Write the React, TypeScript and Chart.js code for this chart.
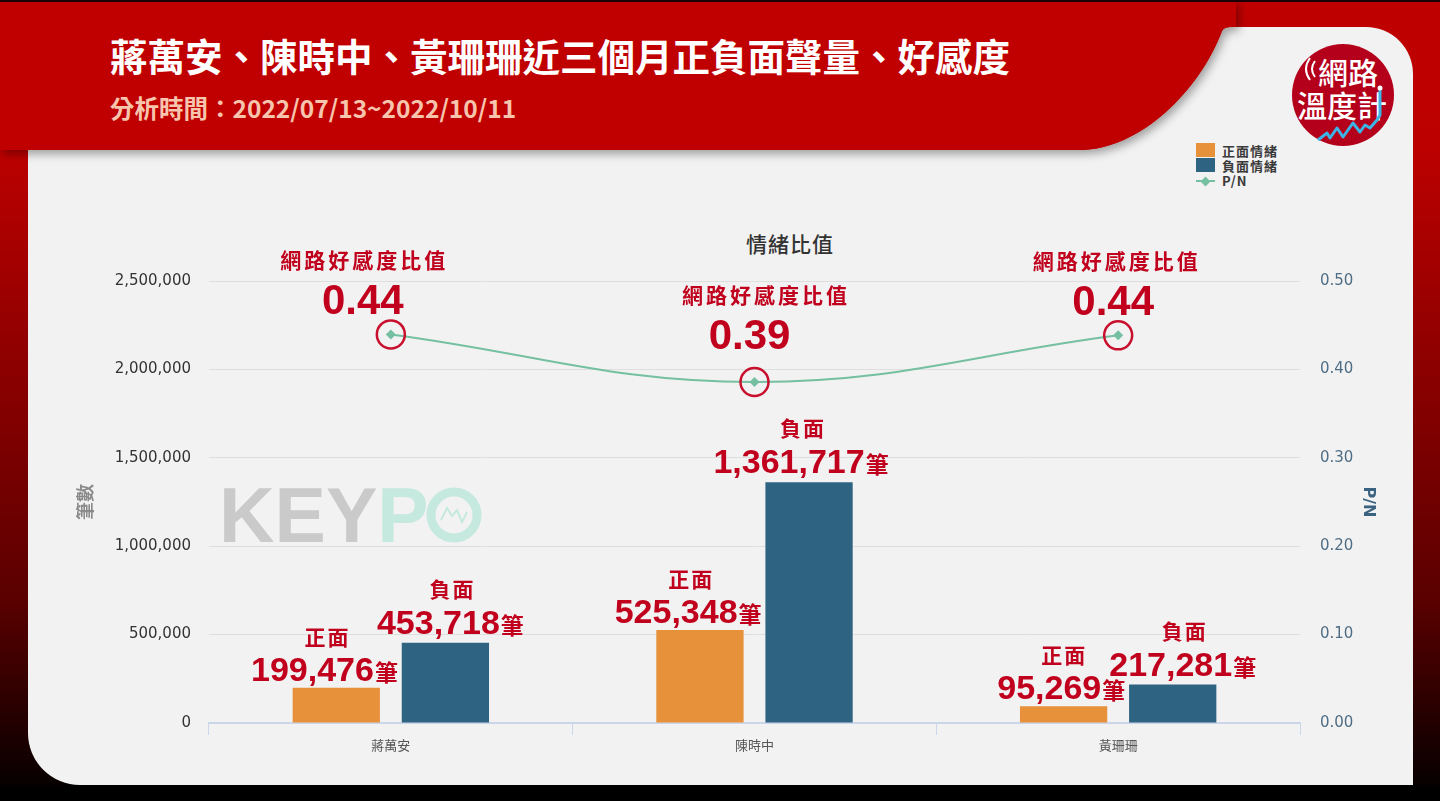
import React, { useEffect, useRef } from 'react';
import { Chart, registerables } from 'chart.js';

Chart.register(...registerables);

// ---------- data ----------
const candidates = ['蔣萬安', '陳時中', '黃珊珊'];
const positiveCounts = [199476, 525348, 95269];
const negativeCounts = [453718, 1361717, 217281];
const pnRatios = [0.4396, 0.3858, 0.4385];
const seriesNames = ['正面情緒', '負面情緒', 'P/N'];
const countAxisMax = 2500000;
const countAxisStep = 500000;
const ratioAxisMax = 0.5;
const ratioAxisStep = 0.1;

// ---------- texts ----------
const headline = '蔣萬安、陳時中、黃珊珊近三個月正負面聲量、好感度';
const periodText = '分析時間：2022/07/13~2022/10/11';
const chartTitle = '情緒比值';
const countAxisTitle = '筆數';
const ratioAxisTitle = 'P/N';
const pnLabelText = '網路好感度比值';
const posWord = '正面';
const negWord = '負面';
const unitWord = '筆';

// ---------- layout offsets for annotations ----------
const pnValueOffsets = [
  { dx: -28, dy: -32 },
  { dx: -5, dy: -45 },
  { dx: -5, dy: -32 },
];
const pnTitleDx = [0, 15, 2];
const negLabelDx = [5, -8, 10];

// ---------- styles ----------
const ORANGE = '#e8913b';
const BLUE = '#2e6381';
const GREEN = '#74c0a1';
const RED_TXT = '#c0001c';
const CJK = '"Noto Sans CJK TC", "Noto Sans CJK SC", sans-serif';
const LATIN = '"Liberation Sans", Arial, sans-serif';
const TICK = '"DejaVu Sans", sans-serif';

function spaced(ctx: CanvasRenderingContext2D, px: number) {
  try {
    (ctx as any).letterSpacing = px + 'px';
  } catch (e) {}
}

function drawCount(
  ctx: CanvasRenderingContext2D,
  value: number,
  x: number,
  cy: number,
  align: 'right' | 'center'
) {
  const num = value.toLocaleString('en-US');
  ctx.font = `bold 34px ${LATIN}`;
  const wNum = ctx.measureText(num).width;
  ctx.font = `bold 23px ${CJK}`;
  const wUnit = ctx.measureText(unitWord).width;
  const total = wNum + wUnit + 1;
  const left = align === 'right' ? x - total : x - total / 2;
  const base = cy + 12;
  ctx.textAlign = 'left';
  ctx.textBaseline = 'alphabetic';
  ctx.font = `bold 34px ${LATIN}`;
  ctx.fillText(num, left, base);
  ctx.font = `bold 23px ${CJK}`;
  ctx.fillText(unitWord, left + wNum + 1, base);
  return left + total / 2;
}

function drawWord(ctx: CanvasRenderingContext2D, text: string, cx: number, cy: number, size: number, gap: number) {
  ctx.save();
  ctx.font = `bold ${size}px ${CJK}`;
  spaced(ctx, gap);
  ctx.textAlign = 'center';
  ctx.textBaseline = 'middle';
  ctx.fillText(text, cx + gap / 2, cy);
  ctx.restore();
}

const annotationPlugin = {
  id: 'customAnnotations',
  afterDatasetsDraw(chart: any) {
    const ctx: CanvasRenderingContext2D = chart.ctx;
    const lineMeta = chart.getDatasetMeta(0);
    const posMeta = chart.getDatasetMeta(1);
    const negMeta = chart.getDatasetMeta(2);
    ctx.save();
    ctx.fillStyle = RED_TXT;

    // P/N highlights
    lineMeta.data.forEach((pt: any, i: number) => {
      ctx.beginPath();
      ctx.strokeStyle = '#c8102e';
      ctx.lineWidth = 2.5;
      ctx.arc(pt.x, pt.y, 14, 0, Math.PI * 2);
      ctx.stroke();
      const vx = pt.x + pnValueOffsets[i].dx;
      const vy = pt.y + pnValueOffsets[i].dy;
      ctx.font = `bold 42px ${LATIN}`;
      ctx.textAlign = 'center';
      ctx.textBaseline = 'middle';
      ctx.fillText(pnRatios[i].toFixed(2), vx, vy);
      drawWord(ctx, pnLabelText, vx + pnTitleDx[i], vy - 42, 21, 3);
    });

    // positive bars
    posMeta.data.forEach((bar: any, i: number) => {
      const right = bar.x + bar.width / 2 + 18;
      const cy = bar.y - 19;
      const c = drawCount(ctx, positiveCounts[i], right, cy, 'right');
      drawWord(ctx, posWord, c + 2, cy - 32, 21, 2);
    });

    // negative bars
    negMeta.data.forEach((bar: any, i: number) => {
      const cx = bar.x + negLabelDx[i];
      const cy = bar.y - 21;
      const c = drawCount(ctx, negativeCounts[i], cx, cy, 'center');
      drawWord(ctx, negWord, c + 1, cy - 33, 21, 2);
    });
    ctx.restore();
  },
};

function ChartCanvas() {
  const ref = useRef<HTMLCanvasElement | null>(null);
  useEffect(() => {
    if (!ref.current) return;
    const chart = new Chart(ref.current, {
      type: 'bar',
      data: {
        labels: candidates,
        datasets: [
          {
            type: 'line',
            label: seriesNames[2],
            data: pnRatios,
            yAxisID: 'y1',
            borderColor: GREEN,
            backgroundColor: GREEN,
            borderWidth: 2,
            tension: 0.4,
            pointStyle: 'rectRot',
            pointRadius: 5,
            pointBorderWidth: 0,
            pointBackgroundColor: GREEN,
            order: 0,
          } as any,
          {
            type: 'bar',
            label: seriesNames[0],
            data: positiveCounts,
            yAxisID: 'y',
            backgroundColor: ORANGE,
            borderWidth: 0,
            categoryPercentage: 0.6,
            barPercentage: 0.8,
            order: 1,
          },
          {
            type: 'bar',
            label: seriesNames[1],
            data: negativeCounts,
            yAxisID: 'y',
            backgroundColor: BLUE,
            borderWidth: 0,
            categoryPercentage: 0.6,
            barPercentage: 0.8,
            order: 1,
          },
        ],
      },
      options: {
        responsive: false,
        animation: false,
        devicePixelRatio: 1,
        locale: 'en-US',
        layout: { padding: { left: 60, right: 60, top: 281, bottom: 38 } },
        plugins: {
          legend: { display: false },
          tooltip: { enabled: false },
          title: { display: false },
        },
        scales: {
          x: {
            offset: true,
            grid: {
              offset: true,
              drawOnChartArea: false,
              drawTicks: true,
              tickLength: 12,
              color: '#ccd6eb',
              lineWidth: 1,
            },
            border: { color: '#ccd6eb', width: 2 },
            ticks: { color: '#555', font: { family: CJK, size: 13 }, padding: 2 },
            afterFit: (s: any) => {
              s.height = 40;
            },
          },
          y: {
            position: 'left',
            min: 0,
            max: countAxisMax,
            ticks: { stepSize: countAxisStep, padding: 18, color: '#333', font: { family: TICK, size: 15 } },
            grid: { color: '#dedede', drawTicks: false, lineWidth: 1 },
            border: { display: false },
            title: {
              display: true,
              text: countAxisTitle,
              color: '#8a8a8a',
              font: { family: CJK, size: 18, weight: 'bold' },
              padding: { top: 14, bottom: 0 },
            },
            afterFit: (s: any) => {
              s.width = 149;
            },
          },
          y1: {
            position: 'right',
            min: 0,
            max: ratioAxisMax,
            ticks: {
              stepSize: ratioAxisStep,
              padding: 20,
              color: '#4f6d84',
              font: { family: TICK, size: 15 },
              callback: (v: any) => Number(v).toFixed(2),
            },
            grid: { drawOnChartArea: false, drawTicks: false },
            border: { display: false },
            title: {
              display: true,
              text: ratioAxisTitle,
              color: '#3a6381',
              font: { family: TICK, size: 16, weight: 'bold' },
              padding: { top: 2, bottom: 0 },
            },
            afterFit: (s: any) => {
              s.width = 80;
            },
          },
        },
      } as any,
      plugins: [annotationPlugin],
    });
    return () => chart.destroy();
  }, []);
  return (
    <canvas
      ref={ref}
      width={1440}
      height={801}
      style={{ position: 'absolute', left: 0, top: 0, width: 1440, height: 801 }}
    />
  );
}

const cardPath =
  'M 28 150 L 1080 150 C 1140 150 1200 90 1222 31 Q 1224 27 1231 27 L 1366 27 A 47 47 0 0 1 1413 74 L 1413 785 L 80 785 A 52 52 0 0 1 28 733 Z';
const headerPath = 'M 0 0 L 1236 0 L 1236 27 L 1231 27 Q 1224 27 1222 31 C 1200 90 1140 150 1080 150 L 0 150 Z';
const zigzag =
  '1318,140 1327,133 1330,138 1337,128 1343,137 1353,123 1360,132 1365,125 1370,128 1377,120 1380,115 1380,90';

function Background() {
  return (
    <svg width={1440} height={801} style={{ position: 'absolute', left: 0, top: 0 }}>
      <defs>
        <linearGradient id="bg" x1="0" y1="0" x2="0" y2="801" gradientUnits="userSpaceOnUse">
          <stop offset="0" stopColor="#c00000" />
          <stop offset={150 / 801} stopColor="#bc0000" />
          <stop offset={600 / 801} stopColor="#5a0000" />
          <stop offset="1" stopColor="#000000" />
        </linearGradient>
        <filter id="sh" x="-5%" y="-20%" width="110%" height="160%">
          <feDropShadow dx="3" dy="4" stdDeviation="5" floodColor="#000" floodOpacity="0.35" />
        </filter>
      </defs>
      <rect x={0} y={0} width={1440} height={801} fill="url(#bg)" />
      <rect x={0} y={785} width={1440} height={16} fill="#000" />
      <path d={cardPath} fill="#f2f2f2" />
      <path d={headerPath} fill="#c00000" filter="url(#sh)" />
      <rect x={0} y={0} width={1440} height={2} fill="#1a0000" />
      {/* logo */}
      <circle cx={1343} cy={95} r={51} fill="#b5001b" />
      <path d="M1315 61 Q1309 69 1315 77" stroke="#fff" strokeWidth={2} fill="none" />
      <path d="M1310 58 Q1302 69 1310 80" stroke="#fff" strokeWidth={2} fill="none" />
      <text
        x={1348}
        y={71}
        fill="#fff"
        fontFamily={CJK}
        fontWeight={500}
        fontSize={30}
        textAnchor="middle"
        dominantBaseline="central"
      >
        網路
      </text>
      <text
        x={1342}
        y={104}
        fill="#fff"
        fontFamily={CJK}
        fontWeight={500}
        fontSize={30}
        textAnchor="middle"
        dominantBaseline="central"
      >
        溫度計
      </text>
      <polyline points={zigzag} fill="none" stroke="#3cb4e6" strokeWidth={3} strokeLinejoin="round" />
      <circle cx={1380} cy={88} r={2.5} fill="#fff" />
    </svg>
  );
}

function Watermark() {
  return (
    <div style={{ position: 'absolute', left: 219, top: 470, height: 90, width: 300 }}>
      <span
        style={{
          position: 'absolute',
          left: 0,
          top: 0,
          fontFamily: LATIN,
          fontWeight: 'bold',
          fontSize: 77,
          lineHeight: '90px',
          color: '#cacaca',
        }}
      >
        KEY
        <span style={{ color: '#c6e9df' }}>P</span>
      </span>
      <svg width={70} height={70} style={{ position: 'absolute', left: 202, top: 10 }}>
        <circle cx={33} cy={35} r={23} fill="none" stroke="#c6e9df" strokeWidth={9} />
        <polyline
          points="20,40 26,28 31,36 36,30 41,42 46,32"
          fill="none"
          stroke="#c6e9df"
          strokeWidth={2}
        />
      </svg>
    </div>
  );
}

function Legend() {
  const row = (y: number, mark: React.ReactNode, label: string) => (
    <div style={{ position: 'absolute', left: 0, top: y, height: 15, display: 'flex', alignItems: 'center' }}>
      <div style={{ width: 19, height: 15, position: 'relative' }}>{mark}</div>
      <span
        style={{
          marginLeft: 7,
          fontFamily: CJK,
          fontSize: 13,
          fontWeight: 'bold',
          letterSpacing: 1,
          color: '#3a3a3a',
          lineHeight: '15px',
        }}
      >
        {label}
      </span>
    </div>
  );
  return (
    <div style={{ position: 'absolute', left: 1196, top: 143, width: 120, height: 50 }}>
      {row(0, <div style={{ width: 19, height: 14, background: ORANGE }} />, seriesNames[0])}
      {row(15, <div style={{ width: 19, height: 14, background: BLUE }} />, seriesNames[1])}
      {row(
        30,
        <div style={{ position: 'relative', width: 19, height: 15 }}>
          <div style={{ position: 'absolute', left: 0, top: 7, width: 19, height: 2, background: GREEN }} />
          <div
            style={{
              position: 'absolute',
              left: 6,
              top: 4.5,
              width: 7,
              height: 7,
              background: GREEN,
              transform: 'rotate(45deg)',
            }}
          />
        </div>,
        seriesNames[2]
      )}
    </div>
  );
}

export default function App() {
  useEffect(() => {
    document.body.style.margin = '0';
    document.body.style.overflow = 'hidden';
  }, []);
  return (
    <div style={{ position: 'absolute', left: 0, top: 0, width: 1440, height: 801, overflow: 'hidden' }}>
      <Background />
      <div
        style={{
          position: 'absolute',
          left: 110,
          top: 35,
          fontFamily: CJK,
          fontWeight: 'bold',
          fontSize: 37.5,
          lineHeight: '40px',
          color: '#ffffff',
          whiteSpace: 'nowrap',
        }}
      >
        {headline}
      </div>
      <div
        style={{
          position: 'absolute',
          left: 110,
          top: 94,
          fontFamily: CJK,
          fontWeight: 'bold',
          fontSize: 24.5,
          lineHeight: '28px',
          color: '#f7c4ae',
          whiteSpace: 'nowrap',
        }}
      >
        {periodText}
      </div>
      <Watermark />
      <div
        style={{
          position: 'absolute',
          left: 690,
          top: 229,
          width: 200,
          textAlign: 'center',
          fontFamily: CJK,
          fontSize: 21,
          fontWeight: 500,
          letterSpacing: 1,
          lineHeight: '28px',
          color: '#333',
        }}
      >
        {chartTitle}
      </div>
      <Legend />
      <ChartCanvas />
    </div>
  );
}
